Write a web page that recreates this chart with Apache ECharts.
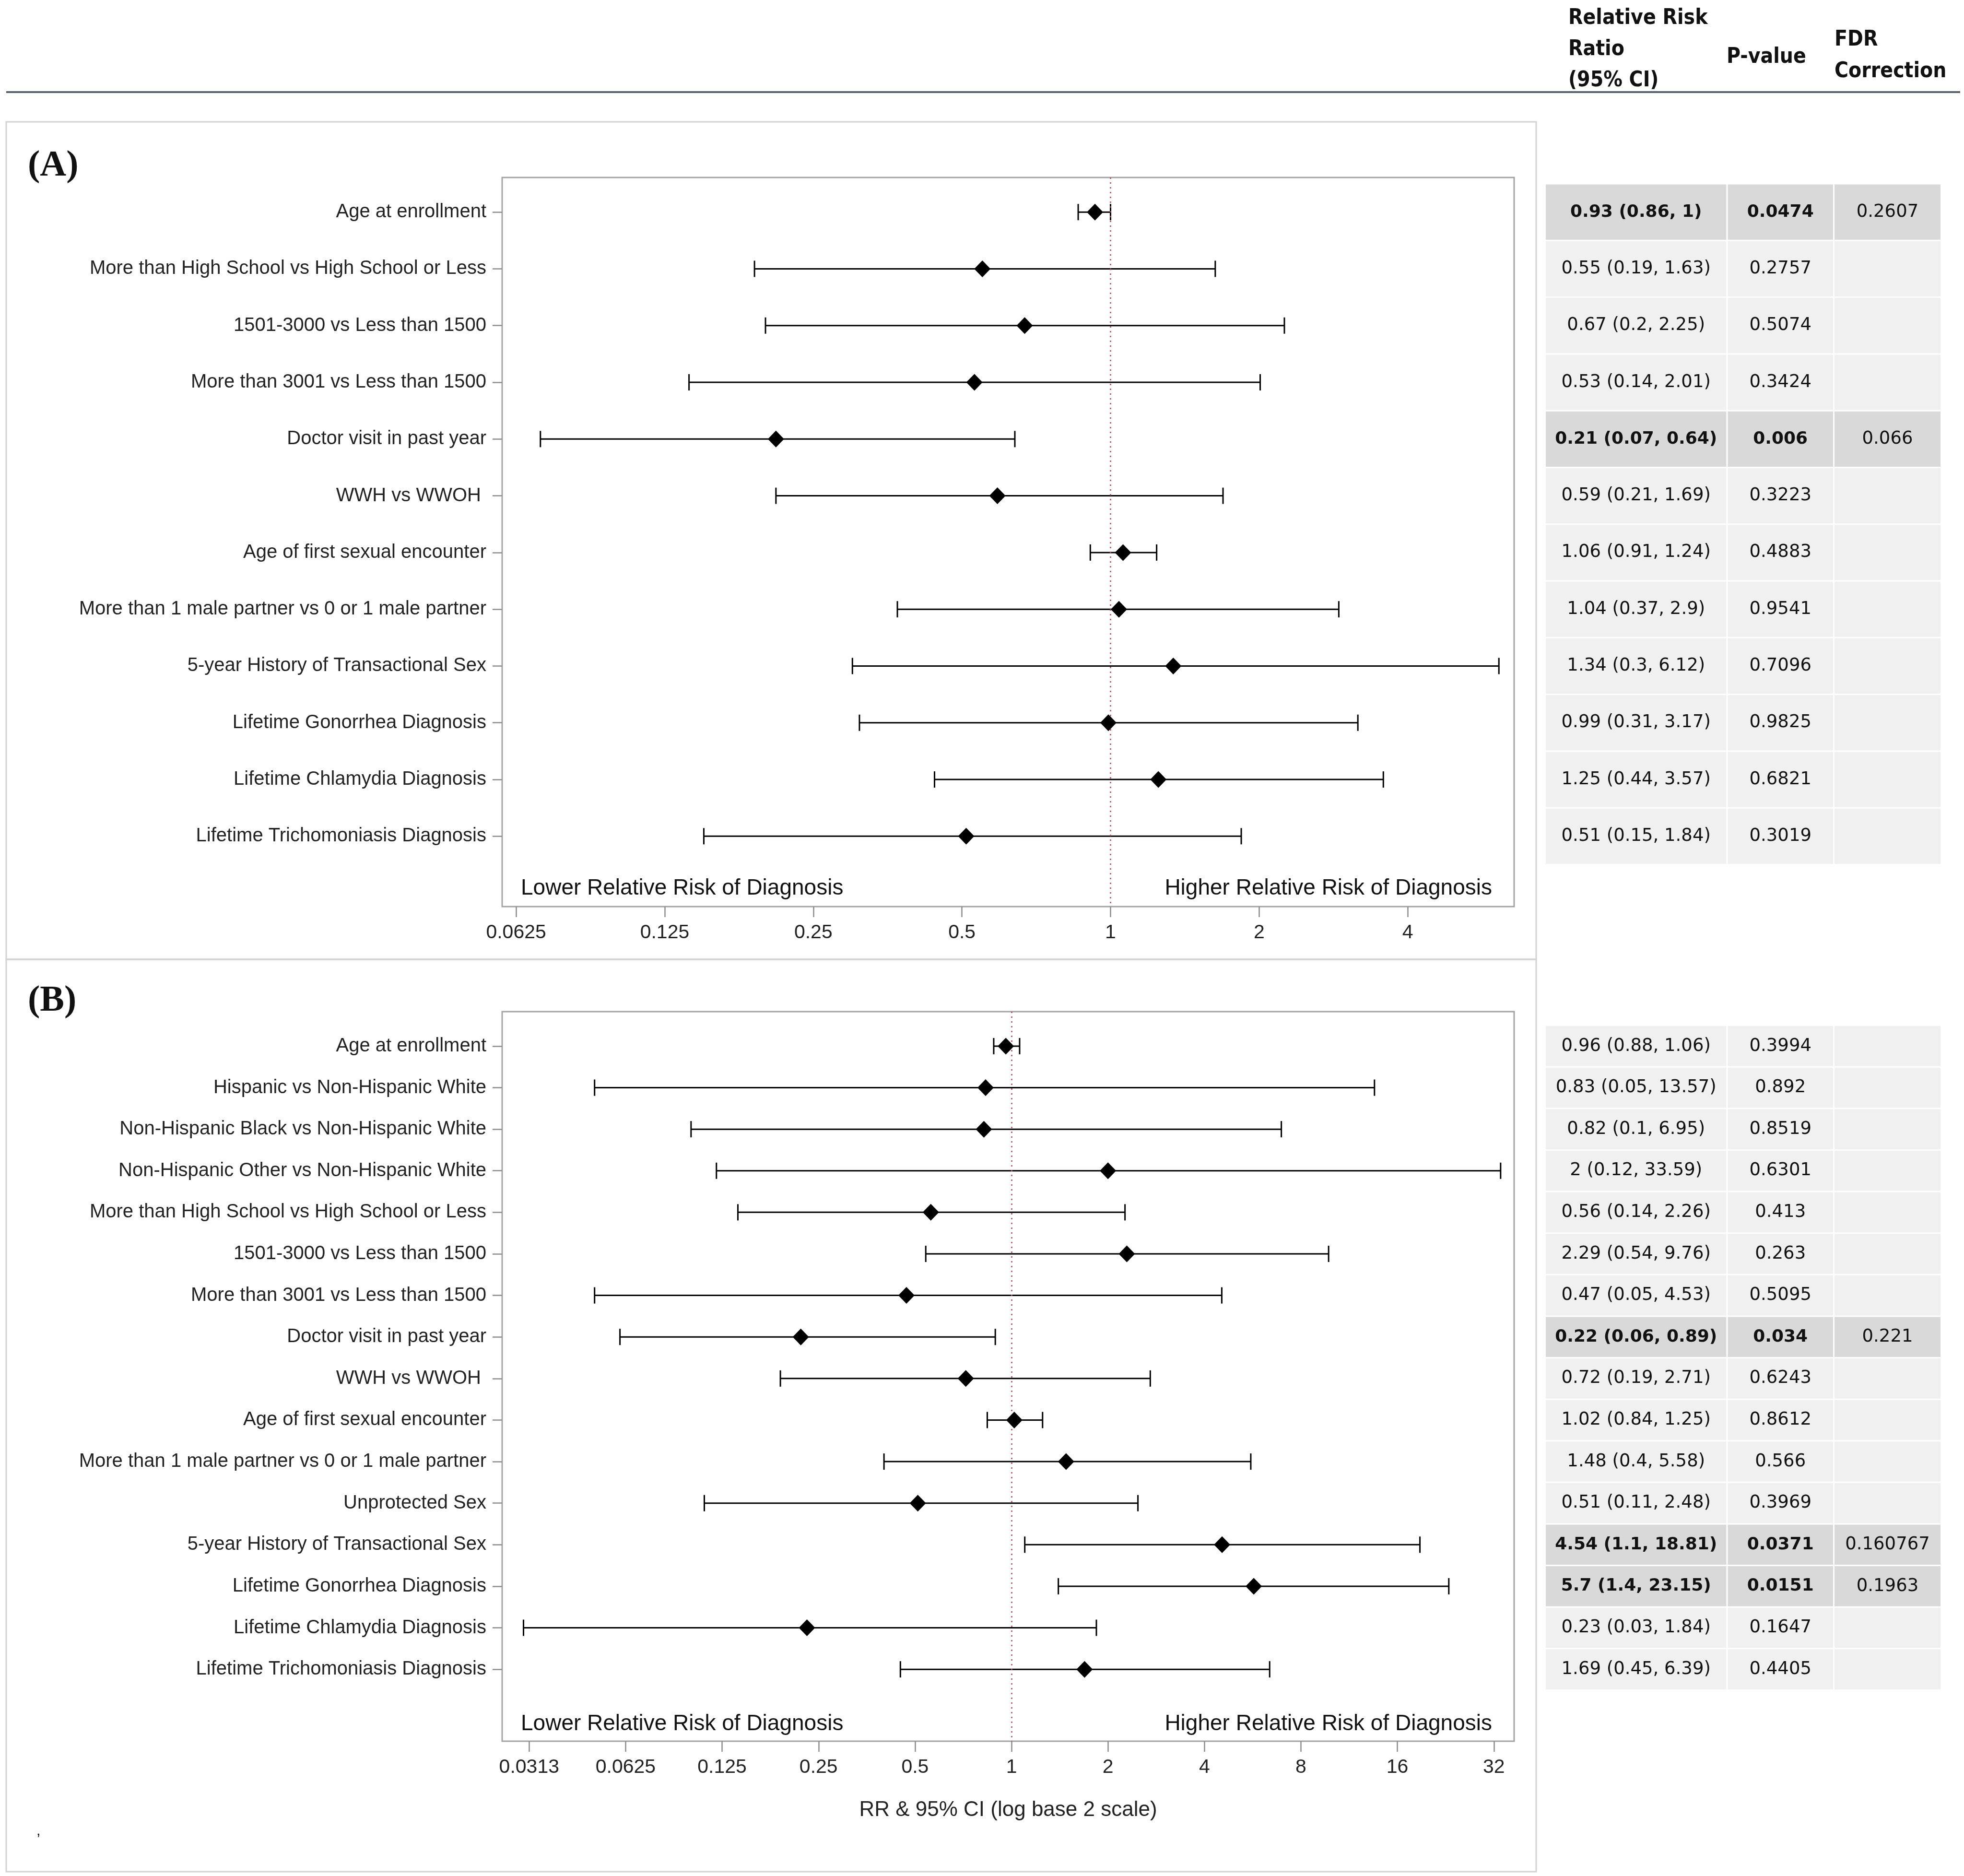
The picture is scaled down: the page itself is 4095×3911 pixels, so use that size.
<!DOCTYPE html>
<html>
<head>
<meta charset="utf-8">
<title>Relative risk forest plots</title>
<script src="https://cdn.jsdelivr.net/npm/echarts@6/dist/echarts.min.js"></script>
<style>
  html, body { margin: 0; padding: 0; background: #fff; }
  #main { width: 4095px; height: 3911px; }
</style>
</head>
<body>
<div id="main"></div>
<script>
    // 数据: panel (A)
    var labelsA = ['Age at enrollment', 'More than High School vs High School or Less', '1501-3000 vs Less than 1500',
        'More than 3001 vs Less than 1500', 'Doctor visit in past year', 'WWH vs WWOH ', 'Age of first sexual encounter',
        'More than 1 male partner vs 0 or 1 male partner', '5-year History of Transactional Sex',
        'Lifetime Gonorrhea Diagnosis', 'Lifetime Chlamydia Diagnosis', 'Lifetime Trichomoniasis Diagnosis'];
    var rrA = [0.93, 0.55, 0.67, 0.53, 0.21, 0.59, 1.06, 1.04, 1.34, 0.99, 1.25, 0.51];
    var loA = [0.86, 0.19, 0.2, 0.14, 0.07, 0.21, 0.91, 0.37, 0.3, 0.31, 0.44, 0.15];
    var hiA = [1, 1.63, 2.25, 2.01, 0.64, 1.69, 1.24, 2.9, 6.12, 3.17, 3.57, 1.84];
    var pA = [0.0474, 0.2757, 0.5074, 0.3424, 0.006, 0.3223, 0.4883, 0.9541, 0.7096, 0.9825, 0.6821, 0.3019];
    var fdrA = [0.2607, null, null, null, 0.066, null, null, null, null, null, null, null];
    var ticksA = [0.0625, 0.125, 0.25, 0.5, 1, 2, 4];

    // panel (B)
    var labelsB = ['Age at enrollment', 'Hispanic vs Non-Hispanic White', 'Non-Hispanic Black vs Non-Hispanic White',
        'Non-Hispanic Other vs Non-Hispanic White', 'More than High School vs High School or Less',
        '1501-3000 vs Less than 1500', 'More than 3001 vs Less than 1500', 'Doctor visit in past year', 'WWH vs WWOH ',
        'Age of first sexual encounter', 'More than 1 male partner vs 0 or 1 male partner', 'Unprotected Sex',
        '5-year History of Transactional Sex', 'Lifetime Gonorrhea Diagnosis', 'Lifetime Chlamydia Diagnosis',
        'Lifetime Trichomoniasis Diagnosis'];
    var rrB = [0.96, 0.83, 0.82, 2, 0.56, 2.29, 0.47, 0.22, 0.72, 1.02, 1.48, 0.51, 4.54, 5.7, 0.23, 1.69];
    var loB = [0.88, 0.05, 0.1, 0.12, 0.14, 0.54, 0.05, 0.06, 0.19, 0.84, 0.4, 0.11, 1.1, 1.4, 0.03, 0.45];
    var hiB = [1.06, 13.57, 6.95, 33.59, 2.26, 9.76, 4.53, 0.89, 2.71, 1.25, 5.58, 2.48, 18.81, 23.15, 1.84, 6.39];
    var pB = [0.3994, 0.892, 0.8519, 0.6301, 0.413, 0.263, 0.5095, 0.034, 0.6243, 0.8612, 0.566, 0.3969, 0.0371, 0.0151, 0.1647, 0.4405];
    var fdrB = [null, null, null, null, null, null, null, 0.221, null, null, null, null, 0.160767, 0.1963, null, null];
    var ticksB = [0.03125, 0.0625, 0.125, 0.25, 0.5, 1, 2, 4, 8, 16, 32];

    var headers = ['Relative Risk\nRatio\n(95% CI)', 'P-value', 'FDR\nCorrection'];

    var FONT = '"Liberation Sans", Arial, sans-serif';
    var TFONT = '"DejaVu Sans", Verdana, sans-serif';
    var HFONT = '"DejaVu Sans Condensed", "Liberation Sans", sans-serif';
    var myChart = echarts.init(document.getElementById('main'));

    function idx(n) {
        var a = [];
        for (var i = 0; i < n; i++) a.push(i);
        return a;
    }

    // 误差线
    function renderCI(params, api) {
        var y = api.value(2);
        var a = api.coord([api.value(0), y]);
        var b = api.coord([api.value(1), y]);
        var cap = 17;
        var st = { stroke: '#000', lineWidth: 3 };
        return {
            type: 'group',
            children: [
                { type: 'line', shape: { x1: a[0], y1: a[1], x2: b[0], y2: b[1] }, style: st },
                { type: 'line', shape: { x1: a[0], y1: a[1] - cap, x2: a[0], y2: a[1] + cap }, style: st },
                { type: 'line', shape: { x1: b[0], y1: b[1] - cap, x2: b[0], y2: b[1] + cap }, style: st }
            ]
        };
    }

    // 右侧表格
    var colEdges = [0, 0.4594, 0.7288, 1];
    function tableRenderer(rr, lo, hi, p, fdr) {
        return function (params, api) {
            var i = api.value(1);
            var l = api.coord([0, i]);
            var r = api.coord([1, i]);
            var h = api.size([0, 1])[1];
            var W = r[0] - l[0];
            var sig = p[i] < 0.05;
            var texts = [rr[i] + ' (' + lo[i] + ', ' + hi[i] + ')', String(p[i]), fdr[i] == null ? '' : String(fdr[i])];
            var children = [];
            for (var j = 0; j < 3; j++) {
                var x0 = l[0] + colEdges[j] * W;
                var w = (colEdges[j + 1] - colEdges[j]) * W - 3;
                children.push({
                    type: 'rect',
                    shape: { x: x0, y: l[1] - h / 2 + 1.5, width: w, height: h - 3 },
                    style: { fill: sig ? '#d9d9d9' : '#f0f0f0' }
                });
                children.push({
                    type: 'text',
                    style: {
                        text: texts[j], x: x0 + w / 2, y: l[1],
                        align: 'center', verticalAlign: 'middle', textAlign: 'center', textVerticalAlign: 'middle',
                        font: (sig && j < 2 ? 'bold 36px ' : '37px ') + TFONT, fill: '#111'
                    }
                });
            }
            return { type: 'group', children: children };
        };
    }

    function ciData(lo, hi) { return lo.map(function (v, i) { return [v, hi[i], i]; }); }
    function ptData(rr) { return rr.map(function (v, i) { return [v, i]; }); }
    function rowData(n) { return idx(n).map(function (i) { return [0.5, i]; }); }
    function tickFmt(v) { return String(+(+v).toFixed(4)); }

    function logX(grid, lo, hi, ticks, extra) {
        var ax = {
            type: 'log', logBase: 2, gridIndex: grid,
            min: Math.pow(2, lo), max: Math.pow(2, hi),
            axisLine: { show: false, onZero: false },
            splitLine: { show: false },
            axisTick: { show: true, length: 22, customValues: ticks, lineStyle: { color: '#8c8c8c', width: 2.5 } },
            axisLabel: { customValues: ticks, formatter: tickFmt, fontSize: 41, color: '#222', margin: 34, fontFamily: FONT }
        };
        return Object.assign(ax, extra || {});
    }
    function rowY(grid, min, max, labels, show) {
        return {
            type: 'value', gridIndex: grid, inverse: true, min: min, max: max, show: show,
            axisLine: { show: false, onZero: false },
            splitLine: { show: false },
            axisTick: { show: true, length: 20, customValues: idx(labels.length), lineStyle: { color: '#8c8c8c', width: 2.5 } },
            axisLabel: {
                customValues: idx(labels.length), fontSize: 40, color: '#222', margin: 33, fontFamily: FONT,
                formatter: function (v) { return labels[Math.round(v)]; }
            }
        };
    }
    function refLine(xi) {
        return {
            type: 'scatter', xAxisIndex: xi, yAxisIndex: xi, data: [], silent: true, z: 1,
            markLine: {
                symbol: 'none', silent: true, label: { show: false },
                lineStyle: { color: '#b34a56', width: 2.5, type: [3, 7] },
                data: [{ xAxis: 1 }]
            }
        };
    }
    function txt(x, y, text, font, align, lh) {
        return {
            type: 'text', x: x, y: y, z: 10,
            style: {
                text: text, font: font, fill: '#111', lineHeight: lh || null,
                align: align, textAlign: align, verticalAlign: 'middle', textVerticalAlign: 'middle'
            }
        };
    }

    var option = {
        animation: false,
        backgroundColor: '#fff',
        textStyle: { fontFamily: FONT },
        grid: [
            { left: 1047, top: 370, width: 2110, height: 1520, show: true, borderColor: '#a3a3a3', borderWidth: 3 },
            { left: 1047, top: 2109, width: 2110, height: 1521, show: true, borderColor: '#a3a3a3', borderWidth: 3 },
            { left: 3223, top: 370, width: 826, height: 1520 },
            { left: 3223, top: 2109, width: 826, height: 1521 }
        ],
        xAxis: [
            logX(0, -4.094, 2.716, ticksA),
            logX(1, -5.28, 5.21, ticksB, {
                name: 'RR & 95% CI (log base 2 scale)', nameLocation: 'middle', nameGap: 122,
                nameTextStyle: { fontSize: 44, color: '#222', fontFamily: FONT }
            }),
            { type: 'value', gridIndex: 2, min: 0, max: 1, show: false },
            { type: 'value', gridIndex: 3, min: 0, max: 1, show: false }
        ],
        yAxis: [
            rowY(0, -0.61, 12.24, labelsA, true),
            rowY(1, -0.83, 16.73, labelsB, true),
            rowY(2, -0.61, 12.24, labelsA, false),
            rowY(3, -0.83, 16.73, labelsB, false)
        ],
        series: [
            refLine(0),
            refLine(1),
            { type: 'custom', xAxisIndex: 0, yAxisIndex: 0, renderItem: renderCI, data: ciData(loA, hiA), encode: { x: [0, 1], y: 2 }, z: 3, silent: true },
            { type: 'custom', xAxisIndex: 1, yAxisIndex: 1, renderItem: renderCI, data: ciData(loB, hiB), encode: { x: [0, 1], y: 2 }, z: 3, silent: true },
            { type: 'scatter', xAxisIndex: 0, yAxisIndex: 0, symbol: 'diamond', symbolSize: [34, 35], itemStyle: { color: '#000', opacity: 1 }, data: ptData(rrA), z: 5 },
            { type: 'scatter', xAxisIndex: 1, yAxisIndex: 1, symbol: 'diamond', symbolSize: [34, 35], itemStyle: { color: '#000', opacity: 1 }, data: ptData(rrB), z: 5 },
            { type: 'custom', xAxisIndex: 2, yAxisIndex: 2, renderItem: tableRenderer(rrA, loA, hiA, pA, fdrA), data: rowData(rrA.length), encode: { x: 0, y: 1 }, silent: true },
            { type: 'custom', xAxisIndex: 3, yAxisIndex: 3, renderItem: tableRenderer(rrB, loB, hiB, pB, fdrB), data: rowData(rrB.length), encode: { x: 0, y: 1 }, silent: true }
        ],
        graphic: [
            // 表头
            txt(3270, 104, headers[0], 'bold 44px ' + HFONT, 'left', 65),
            txt(3600, 120, headers[1], 'bold 44px ' + HFONT, 'left'),
            txt(3825, 117, headers[2], 'bold 44px ' + HFONT, 'left', 66),
            { type: 'line', shape: { x1: 13, y1: 192, x2: 4087, y2: 192 }, style: { stroke: '#56616b', lineWidth: 4 } },
            // 面板边框
            { type: 'rect', shape: { x: 13, y: 254, width: 3190, height: 1746 }, style: { fill: 'none', stroke: '#d2d2d2', lineWidth: 3 } },
            { type: 'rect', shape: { x: 13, y: 2000, width: 3190, height: 1902 }, style: { fill: 'none', stroke: '#d2d2d2', lineWidth: 3 } },
            txt(58, 346, '(A)', 'bold 76px "Liberation Serif", "Times New Roman", serif', 'left'),
            txt(58, 2087, '(B)', 'bold 76px "Liberation Serif", "Times New Roman", serif', 'left'),
            txt(1086, 1852, 'Lower Relative Risk of Diagnosis', '46px ' + FONT, 'left'),
            txt(3111, 1852, 'Higher Relative Risk of Diagnosis', '46px ' + FONT, 'right'),
            txt(1086, 3594, 'Lower Relative Risk of Diagnosis', '46px ' + FONT, 'left'),
            txt(3111, 3594, 'Higher Relative Risk of Diagnosis', '46px ' + FONT, 'right'),
            txt(76, 3818, ',', '30px ' + FONT, 'left')
        ]
    };
    myChart.setOption(option);
</script>
</body>
</html>
